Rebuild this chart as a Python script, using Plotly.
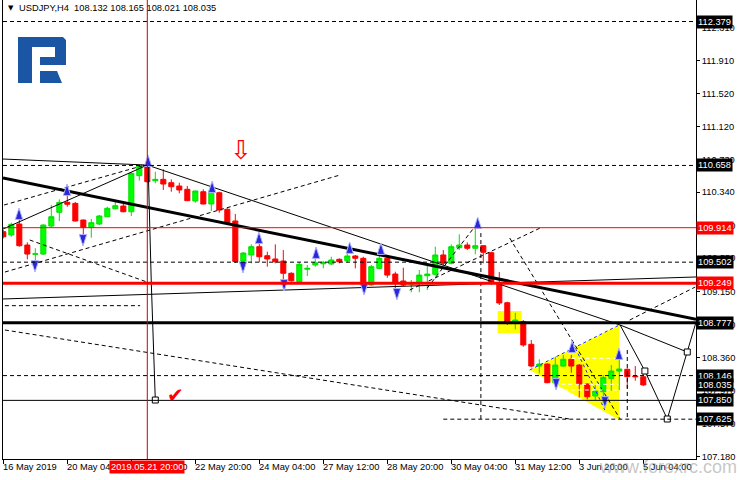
import plotly.graph_objects as go

# ---------------- data ----------------
bar_index = list(range(81))
opens = [109.866, 109.827, 109.958, 109.707, 109.596, 109.599, 109.934, 110.098, 110.217, 110.205,
         110.006, 109.919, 109.958, 110.045, 110.141, 110.173, 110.105, 110.536, 110.651, 110.476,
         110.492, 110.452, 110.412, 110.373, 110.233, 110.344, 110.197, 110.332, 110.134, 109.994,
         109.516, 109.588, 109.687, 109.579, 109.540, 109.516, 109.369, 109.268, 109.417, 109.468,
         109.483, 109.480, 109.536, 109.519, 109.576, 109.548, 109.229, 109.428, 109.548, 109.360,
         109.277, 109.237, 109.249, 109.340, 109.357, 109.588, 109.488, 109.675, 109.707, 109.668,
         109.699, 109.615, 109.247, 109.017, 108.771, 108.790, 108.520, 108.260, 108.284, 108.061,
         108.260, 108.341, 108.272, 108.045, 107.902, 107.953, 108.113, 108.201, 108.221, 108.141,
         108.132]
highs = [109.886, 109.974, 110.026, 109.739, 109.668, 109.954, 110.185, 110.253, 110.313, 110.221,
         110.010, 110.018, 110.066, 110.165, 110.225, 110.225, 110.580, 110.660, 110.676, 110.583,
         110.612, 110.492, 110.452, 110.412, 110.356, 110.373, 110.373, 110.344, 110.146, 110.078,
         109.623, 109.715, 109.746, 109.627, 109.715, 109.647, 109.381, 109.500, 109.468, 109.567,
         109.516, 109.567, 109.548, 109.608, 109.588, 109.567, 109.468, 109.627, 109.588, 109.388,
         109.436, 109.289, 109.408, 109.488, 109.687, 109.647, 109.715, 109.835, 109.739, 109.920,
         109.705, 109.627, 109.384, 109.029, 108.898, 108.810, 108.571, 108.341, 108.293, 108.372,
         108.392, 108.392, 108.284, 108.054, 108.033, 108.153, 108.272, 108.353, 108.233, 108.260,
         108.165]
lows = [109.787, 109.806, 109.687, 109.536, 109.488, 109.588, 109.914, 109.994, 110.165, 109.988,
        109.794, 109.794, 109.946, 110.042, 110.134, 110.098, 110.054, 110.476, 110.452, 110.445,
        110.365, 110.344, 110.325, 110.233, 110.213, 110.194, 110.113, 110.093, 109.946, 109.492,
        109.444, 109.488, 109.500, 109.448, 109.488, 109.261, 109.268, 109.261, 109.336, 109.448,
        109.428, 109.468, 109.488, 109.500, 109.428, 109.197, 109.217, 109.417, 109.316, 109.189,
        109.217, 109.142, 109.142, 109.169, 109.340, 109.460, 109.476, 109.647, 109.647, 109.596,
        109.488, 109.229, 108.990, 108.751, 108.699, 108.491, 108.245, 108.173, 108.054, 108.045,
        108.252, 108.180, 107.886, 107.862, 107.854, 107.834, 107.965, 107.974, 107.994, 108.085,
        108.021]
closes = [109.806, 109.954, 109.699, 109.599, 109.603, 109.946, 110.045, 110.217, 110.194, 109.994,
          109.919, 109.974, 110.054, 110.146, 110.177, 110.105, 110.564, 110.651, 110.464, 110.492,
          110.436, 110.404, 110.365, 110.237, 110.353, 110.197, 110.356, 110.125, 109.966, 109.510,
          109.611, 109.687, 109.567, 109.540, 109.507, 109.369, 109.280, 109.476, 109.428, 109.495,
          109.500, 109.528, 109.507, 109.576, 109.548, 109.229, 109.448, 109.548, 109.348, 109.261,
          109.229, 109.256, 109.348, 109.360, 109.588, 109.488, 109.687, 109.707, 109.668, 109.699,
          109.620, 109.249, 109.014, 108.778, 108.810, 108.512, 108.260, 108.284, 108.061, 108.272,
          108.341, 108.260, 108.045, 107.893, 107.962, 108.125, 108.201, 108.225, 108.133, 108.133,
          108.035]

x_tick_idx = [0, 8, 16, 24, 32, 40, 48, 56, 64, 72, 80]
x_tick_labels = ["16 May 2019", "20 May 04:00", "21 May 12:00", "22 May 20:00", "24 May 04:00",
                 "27 May 12:00", "28 May 20:00", "30 May 04:00", "31 May 12:00", "3 Jun 20:00",
                 "5 Jun 04:00"]
y_ticks = [107.180, 107.570, 107.970, 108.360, 108.760, 109.150, 109.550, 109.940,
           110.340, 110.730, 111.120, 111.520, 111.910, 112.310]

cursor_bar = 18
cursor_label = "2019.05.21 20:00"
title_text = "USDJPY,H4\u00a0\u00a0108.132 108.165 108.021 108.035"

# horizontal levels
dashed_levels = [112.379, 110.658, 109.502, 108.146]
red_thin_level = 109.914
red_thick_level = 109.249
black_thick_level = 108.777
black_thin_level = 107.850
target_level = 107.625
target_level_start = 55

tag_values = [112.379, 110.658, 109.914, 109.502, 109.249, 108.777, 108.146, 108.035, 107.850, 107.625]
tag_red = [False, False, True, False, True, False, False, False, False, False]

# trend lines (bar index, price)
main_trend_x = [-0.04, 86.6]
main_trend_y = [110.508, 108.819]
solid_lines = [
    ([-0.04, 18.0], [110.735, 110.663]),
    ([18.0, 77.1], [110.663, 108.751]),
    ([-0.04, 18.0], [109.898, 110.663]),
    ([-0.04, 86.6], [109.062, 109.325]),
    ([18.1, 18.5, 19.0], [110.663, 109.253, 107.854]),
    ([77.1, 85.5], [108.751, 108.428]),
]
forecast_x = [77.1, 80.2, 83.0, 85.5, 86.6]
forecast_y = [108.751, 108.201, 107.627, 108.428, 108.787]
dashed_lines = [
    ([0.09, 17.7], [110.185, 110.663]),
    ([0.2, 42.1], [109.384, 110.544]),
    ([3.3, 18.3], [109.767, 109.253]),
    ([0.2, 17.1], [108.982, 108.982]),
    ([0.2, 70.8], [108.691, 107.627]),
    ([50.8, 67.1], [109.169, 109.910]),
    ([53.0, 59.1], [109.193, 109.946]),
    ([59.7, 59.7], [109.850, 107.627]),
    ([63.3, 77.1], [109.791, 107.627]),
    ([78.3, 86.5], [108.810, 109.205]),
    ([78.0, 78.0], [108.452, 107.615]),
]
blue_dashed_lines = [
    ([65.8, 77.0], [108.213, 108.751]),
    ([71.2, 75.2], [108.537, 107.734]),
]
white_dashed_lines = [
    ([71.0, 76.9], [108.352, 108.352]),
    ([67.1, 76.9], [108.042, 108.042]),
    ([69.2, 76.9], [107.974, 107.974]),
]
square_x = [19.0, 80.2, 83.0, 85.5]
square_y = [107.854, 108.201, 107.627, 108.428]

triangle_x = [65.8, 77.0, 77.0]
triangle_y = [108.213, 108.751, 107.615]
box_x = [61.8, 64.8]
box_y = [108.655, 108.918]

fractal_up_x = [1.96, 7.96, 18.09, 26.1, 31.96, 39.1, 43.3, 47.2, 59.3, 71.1, 76.96]
fractal_up_y = [110.149, 110.436, 110.783, 110.472, 109.862, 109.683, 109.743, 109.731, 110.042, 108.559, 108.476]
fractal_dn_x = [3.96, 9.96, 29.96, 35.1, 45.1, 49.2, 69.1, 75.2]
fractal_dn_y = [109.384, 109.695, 109.372, 109.157, 109.109, 109.050, 107.974, 107.758]

sell_arrow = (29.7, 110.84)
check_mark = (21.5, 107.92)

# ---------------- figure ----------------
X_RANGE = [-0.04, 86.59]
Y_RANGE = [107.149, 112.636]
FONT = "Liberation Sans"
FS = 9.3

fig = go.Figure()

fig.add_trace(go.Candlestick(
    x=bar_index, open=opens, high=highs, low=lows, close=closes,
    increasing=dict(line=dict(color="#00e000", width=1), fillcolor="#00ff00"),
    decreasing=dict(line=dict(color="#ff0000", width=1), fillcolor="#ff0000"),
    whiskerwidth=0, hoverinfo="skip", showlegend=False))

def add_line(xs, ys, color="black", width=1, dash="solid"):
    fig.add_trace(go.Scatter(x=xs, y=ys, mode="lines", hoverinfo="skip", showlegend=False,
                             line=dict(color=color, width=width, dash=dash)))

for xs, ys in dashed_lines:
    add_line(xs, ys, dash="4px,3px")
for xs, ys in white_dashed_lines:
    add_line(xs, ys, color="white", dash="4px,3px")
for xs, ys in blue_dashed_lines:
    add_line(xs, ys, color="#2030ff", dash="3px,3px")
for xs, ys in solid_lines:
    add_line(xs, ys)
add_line(forecast_x, forecast_y)
add_line(main_trend_x, main_trend_y, width=3)

fig.add_trace(go.Scatter(x=square_x, y=square_y, mode="markers", hoverinfo="skip", showlegend=False,
                         marker=dict(symbol="square", size=6, color="white",
                                     line=dict(color="black", width=1))))
fig.add_trace(go.Scatter(x=fractal_up_x, y=fractal_up_y, mode="markers", hoverinfo="skip", showlegend=False,
                         marker=dict(symbol="arrow", size=12, angle=0, color="#2828d8",
                                     line=dict(color="#b0b4ff", width=1))))
fig.add_trace(go.Scatter(x=fractal_dn_x, y=fractal_dn_y, mode="markers", hoverinfo="skip", showlegend=False,
                         marker=dict(symbol="arrow", size=12, angle=180, color="#2828d8",
                                     line=dict(color="#b0b4ff", width=1))))

shapes = []
# yellow patterns
tri_path = "M {},{} L {},{} L {},{} Z".format(triangle_x[0], triangle_y[0], triangle_x[1], triangle_y[1],
                                              triangle_x[2], triangle_y[2])
shapes.append(dict(type="path", xref="x", yref="y", path=tri_path, fillcolor="#ffff00",
                   line=dict(width=0), layer="below"))
shapes.append(dict(type="rect", xref="x", yref="y", x0=box_x[0], x1=box_x[1], y0=box_y[0], y1=box_y[1],
                   fillcolor="#ffff00", line=dict(width=0), layer="below"))
# horizontal levels
for v in dashed_levels:
    shapes.append(dict(type="line", xref="paper", x0=0, x1=1, yref="y", y0=v, y1=v,
                       line=dict(color="black", width=1, dash="4px,3px")))
shapes.append(dict(type="line", xref="x", x0=target_level_start, x1=X_RANGE[1], yref="y",
                   y0=target_level, y1=target_level, line=dict(color="black", width=1, dash="4px,3px")))
shapes.append(dict(type="line", xref="paper", x0=0, x1=1, yref="y", y0=red_thin_level, y1=red_thin_level,
                   line=dict(color="#ff0000", width=1)))
shapes.append(dict(type="line", xref="paper", x0=0, x1=1, yref="y", y0=red_thick_level, y1=red_thick_level,
                   line=dict(color="#ff0000", width=3)))
shapes.append(dict(type="line", xref="paper", x0=0, x1=1, yref="y", y0=black_thick_level, y1=black_thick_level,
                   line=dict(color="black", width=3)))
shapes.append(dict(type="line", xref="paper", x0=0, x1=1, yref="y", y0=black_thin_level, y1=black_thin_level,
                   line=dict(color="black", width=1)))
# cursor line
shapes.append(dict(type="line", xref="x", x0=cursor_bar, x1=cursor_bar, yref="paper", y0=0, y1=1,
                   line=dict(color="#cc0000", width=1)))

# logo (pixel geometry -> paper)
PLOT_L, PLOT_R, PLOT_T, PLOT_B = 3, 696, 0, 459
def pxx(p):
    return (p - PLOT_L) / (PLOT_R - PLOT_L)
def pxy(p):
    return (PLOT_B - p) / (PLOT_B - PLOT_T)
def poly(points):
    s = "M " + " L ".join("{:.5f},{:.5f}".format(pxx(a), pxy(b)) for a, b in points) + " Z"
    return s
logo_main = [(18, 37), (63, 37), (66, 40), (66, 65), (40, 65), (40, 57), (55, 57), (55, 47),
             (32, 47), (32, 83), (18, 83)]
logo_foot = [(40, 71), (57, 71), (62, 83), (40, 83)]
for pts in (logo_main, logo_foot):
    shapes.append(dict(type="path", xref="paper", yref="paper", path=poly(pts),
                       fillcolor="#1b56a4", line=dict(width=0)))

annotations = []
# x labels
for i, lab in zip(x_tick_idx, x_tick_labels):
    annotations.append(dict(x=i, xref="x", y=0, yref="paper", yanchor="top", xanchor="left",
                            text=lab, showarrow=False, xshift=-2, yshift=-1,
                            font=dict(family=FONT, size=FS, color="black")))
annotations.append(dict(x=cursor_bar, xref="x", y=0, yref="paper", yanchor="top", xanchor="center",
                        text=cursor_label, showarrow=False, yshift=-1, bgcolor="#ff0000", borderpad=1,
                        font=dict(family=FONT, size=FS, color="white")))
# price tags
for v, red in zip(tag_values, tag_red):
    annotations.append(dict(x=1, xref="paper", y=v, yref="y", xanchor="left", yanchor="middle",
                            text="{:.3f}".format(v), showarrow=False, borderpad=1,
                            bgcolor="#ff0000" if red else "black",
                            font=dict(family=FONT, size=FS, color="white")))
# title
annotations.append(dict(x=pxx(6), xref="paper", y=pxy(8), yref="paper", xanchor="left", yanchor="middle",
                        text="\u25bc", showarrow=False, font=dict(family="DejaVu Sans", size=7, color="black")))
annotations.append(dict(x=pxx(17), xref="paper", y=pxy(8), yref="paper", xanchor="left", yanchor="middle",
                        text=title_text, showarrow=False, font=dict(family=FONT, size=FS, color="black")))
# symbols
annotations.append(dict(x=sell_arrow[0], y=sell_arrow[1], xref="x", yref="y", text="\u21e9", showarrow=False,
                        font=dict(family="DejaVu Sans", size=26, color="#ff0000")))
annotations.append(dict(x=check_mark[0], y=check_mark[1], xref="x", yref="y", text="\u2714", showarrow=False,
                        font=dict(family="DejaVu Sans", size=20, color="#ff0000")))
# watermark
annotations.append(dict(x=pxx(738), xref="paper", y=pxy(467), yref="paper", xanchor="right", yanchor="middle",
                        text="www.forexrc.com", showarrow=False, borderpad=0,
                        font=dict(family=FONT, size=18, color="rgba(150,150,150,0.55)")))

fig.update_layout(
    width=740, height=480,
    margin=dict(l=PLOT_L, r=740 - PLOT_R, t=PLOT_T, b=480 - PLOT_B),
    paper_bgcolor="white", plot_bgcolor="white",
    showlegend=False, boxgap=0.3, boxgroupgap=0.1,
    shapes=shapes, annotations=annotations,
    xaxis=dict(range=X_RANGE, type="linear", tickvals=x_tick_idx, showticklabels=False,
               ticks="outside", ticklen=4, tickcolor="black", showline=True, linecolor="black",
               linewidth=1, showgrid=False, zeroline=False, rangeslider=dict(visible=False),
               fixedrange=True),
    yaxis=dict(range=Y_RANGE, side="right", tickvals=y_ticks,
               ticktext=["{:.3f}".format(v) for v in y_ticks],
               ticks="outside", ticklen=3, tickcolor="black", showline=True, linecolor="black",
               linewidth=1, mirror=True, showgrid=False, zeroline=False,
               tickfont=dict(family=FONT, size=FS, color="black"), fixedrange=True),
)

fig.write_html("out.html", config={"displayModeBar": False},
               post_script="document.body.style.margin='0';document.body.style.padding='0';")
